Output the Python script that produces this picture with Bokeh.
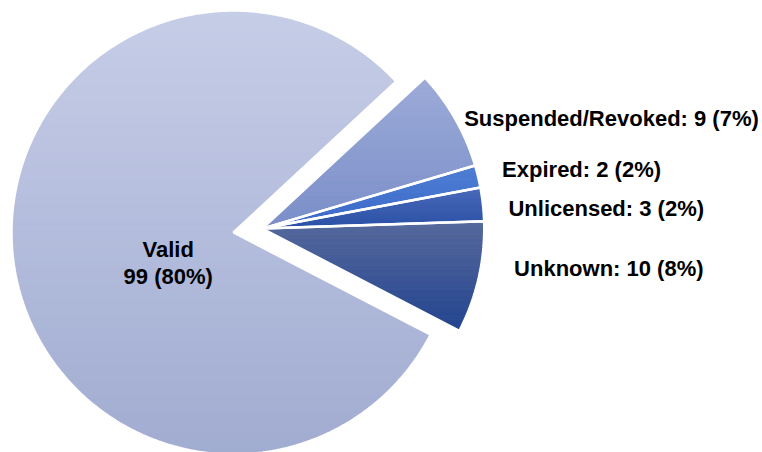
import numpy as np
from bokeh.plotting import figure
from bokeh.models import Range1d
from bokeh.core.properties import value
from bokeh.embed import file_html
from bokeh.resources import INLINE

# ---- data (counter-clockwise order, starting at the lower edge of "Unknown") ----
categories = ["Unknown", "Unlicensed", "Expired", "Suspended/Revoked", "Valid"]
counts = [10, 3, 2, 9, 99]
exploded = [True, True, True, True, False]

# ---- styles ----
top_colors = ["#56699c", "#4a69b8", "#4f7fd3", "#9cabd8", "#c6cde7"]
bottom_colors = ["#22448f", "#2a51a6", "#3a67c8", "#7a8ec8", "#a1acd1"]

# ---- layout ----
W, H = 762, 452
CX, CY = 233.0, 220.0          # pie centre (plot px)
R = 222.0                      # radius (px)
START_DEG = -27.4              # angle of first slice edge
EXPLODE = 29.0                 # offset of the detached group
label_angle_deg = [-9.0, 4.6, 13.8, 28.6, 205.0]
label_radius = [255.0, 247.0, 247.0, 230.0, 72.0]

total = sum(counts)
pcts = [round(100 * c / total) for c in counts]

p = figure(width=W, height=H, output_backend="svg", toolbar_location=None,
           x_range=Range1d(0, W), y_range=Range1d(0, H), min_border=0)
p.axis.visible = False
p.grid.visible = False
p.outline_line_color = None
p.background_fill_color = "white"


def hex2rgb(h):
    h = h.lstrip("#")
    return np.array([int(h[i:i + 2], 16) for i in (0, 2, 4)], dtype=float)


def rgb2hex(c):
    return "#%02x%02x%02x" % tuple(int(round(v)) for v in c)


def clip(poly, y0, above):
    out = []
    n = len(poly)
    for i in range(n):
        a = poly[i]
        b = poly[(i + 1) % n]
        ina = a[1] >= y0 if above else a[1] <= y0
        inb = b[1] >= y0 if above else b[1] <= y0
        if ina:
            out.append(a)
        if ina != inb:
            t = (y0 - a[1]) / (b[1] - a[1])
            out.append((a[0] + t * (b[0] - a[0]), y0))
    return out


# slice angles
angles = []
a0 = np.radians(START_DEG)
for c in counts:
    a1 = a0 + 2 * np.pi * c / total
    angles.append((a0, a1))
    a0 = a1

grp = [angles[i] for i in range(len(counts)) if exploded[i]]
gmid = (grp[0][0] + grp[-1][1]) / 2
gdx, gdy = EXPLODE * np.cos(gmid), EXPLODE * np.sin(gmid)

band_xs, band_ys, band_cols = [], [], []
out_xs, out_ys = [], []
apexes = []
for i, (s, e) in enumerate(angles):
    ox, oy = (CX + gdx, CY + gdy) if exploded[i] else (CX, CY)
    apexes.append((ox, oy))
    n = max(8, int(np.degrees(e - s) * 2))
    t = np.linspace(s, e, n)
    poly = [(ox, oy)] + [(ox + R * np.cos(a), oy + R * np.sin(a)) for a in t]
    ys = [q[1] for q in poly]
    ymin, ymax = min(ys), max(ys)
    nb = 60
    ct, cb = hex2rgb(top_colors[i]), hex2rgb(bottom_colors[i])
    for b in range(nb):
        y0 = ymin + (ymax - ymin) * b / nb
        y1 = ymin + (ymax - ymin) * (b + 1) / nb
        pc = clip(clip(poly, y0, True), y1, False)
        if len(pc) < 3:
            continue
        f = (b + 0.5) / nb          # 0 at bottom, 1 at top
        col = rgb2hex(cb + (ct - cb) * f)
        band_xs.append([q[0] for q in pc])
        band_ys.append([q[1] for q in pc])
        band_cols.append(col)
    out_xs.append([q[0] for q in poly])
    out_ys.append([q[1] for q in poly])

p.patches(band_xs, band_ys, fill_color=band_cols, line_color=band_cols, line_width=1)
p.patches(out_xs, out_ys, fill_color=None, line_color="white", line_width=2.5)

# labels
lx, ly, texts, aligns = [], [], [], []
for i, cat in enumerate(categories):
    ox, oy = apexes[i]
    a = np.radians(label_angle_deg[i])
    lx.append(ox + label_radius[i] * np.cos(a))
    ly.append(oy + label_radius[i] * np.sin(a))
    if exploded[i]:
        texts.append(f"{cat}: {counts[i]} ({pcts[i]}%)")
        aligns.append("left")
    else:
        texts.append(f"{cat}\n{counts[i]} ({pcts[i]}%)")
        aligns.append("center")

p.text(lx, ly, text=texts, text_align=aligns, text_baseline="middle",
       text_font=value("Liberation Sans"), text_font_style="bold",
       text_font_size="22px", text_color="black", text_line_height=1.07)

open("out.html", "w").write(file_html(p, INLINE))
